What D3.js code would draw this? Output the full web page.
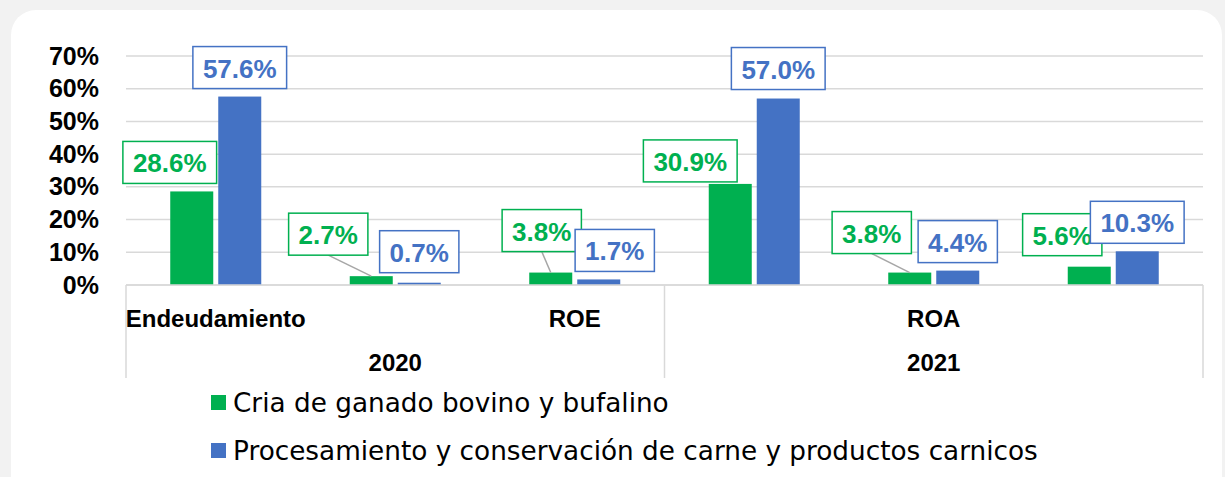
<!DOCTYPE html>
<html>
<head>
<meta charset="utf-8">
<script src="https://cdn.jsdelivr.net/npm/d3@7"></script>
<style>
  html, body { margin: 0; padding: 0; background: #f2f2f2; }
  svg { display: block; }
</style>
</head>
<body>
<div id="chart"></div>
<script>
// chart data
const years = ['2020', '2021'];
const metrics = ['Endeudamiento', 'ROA', 'ROE'];
const seriesNames = ['Cria de ganado bovino y bufalino', 'Procesamiento y conservación de carne y productos carnicos'];
const criaValues = [0.286, 0.027, 0.038, 0.309, 0.038, 0.056];
const procValues = [0.576, 0.007, 0.017, 0.570, 0.044, 0.103];
const yTicks = [0, 0.1, 0.2, 0.3, 0.4, 0.5, 0.6, 0.7];

const colors = ['#00b050', '#4472c4'];

// labels were dragged around by hand in the original, so keep the nudges (px)
const labelNudge = [
  [[-22, -8], [-43, -21], [-9, -21], [-40, -2], [-38, -19], [-27, -11]],
  [[0, -8], [0, -10], [16, -8], [0, -9], [0, -8], [0, -8]]
];

const W = 1225, H = 477;
const plot = { left: 126, right: 1203, top: 56, bottom: 285 };
const font = '"Liberation Sans", Arial, sans-serif';
const legendFont = '"DejaVu Sans", sans-serif';

const svg = d3.select('#chart').append('svg')
  .attr('width', W)
  .attr('height', H);

// white card
svg.append('rect')
  .attr('x', 11).attr('y', 10)
  .attr('width', 1211).attr('height', 520)
  .attr('rx', 25)
  .attr('fill', '#ffffff');

// categories: year x metric
const cats = [];
years.forEach(yr => metrics.forEach(m => cats.push({ year: yr, metric: m, key: yr + '|' + m })));

const x0 = d3.scaleBand()
  .domain(cats.map(d => d.key))
  .range([plot.left, plot.right])
  .paddingInner(0.493)
  .paddingOuter(0.2465);

const x1 = d3.scaleBand()
  .domain([0, 1])
  .range([0, x0.bandwidth()])
  .paddingInner(0.104);

const y = d3.scaleLinear()
  .domain([0, 0.7])
  .range([plot.bottom, plot.top]);

// gridlines
svg.append('g')
  .selectAll('line')
  .data(yTicks)
  .join('line')
  .attr('x1', plot.left).attr('x2', plot.right)
  .attr('y1', d => y(d)).attr('y2', d => y(d))
  .attr('stroke', '#d9d9d9')
  .attr('stroke-width', 1.5);

// y axis labels
const yAxis = d3.axisLeft(y)
  .tickValues(yTicks)
  .tickFormat(d3.format('.0%'))
  .tickSize(0)
  .tickPadding(27);

const yg = svg.append('g')
  .attr('transform', `translate(${plot.left},0)`)
  .call(yAxis);
yg.select('.domain').remove();
yg.selectAll('text')
  .attr('font-family', font)
  .attr('font-weight', 'bold')
  .attr('font-size', 25)
  .attr('fill', '#000');

// bars
const seriesData = [criaValues, procValues];
const barG = svg.append('g');
seriesData.forEach((vals, s) => {
  barG.selectAll('.bar' + s)
    .data(vals)
    .join('rect')
    .attr('class', 'bar' + s)
    .attr('x', (d, i) => x0(cats[i].key) + x1(s))
    .attr('y', d => y(d))
    .attr('width', x1.bandwidth())
    .attr('height', d => y(0) - y(d))
    .attr('fill', colors[s]);
});

// category axis (multi-level)
const axisG = svg.append('g');
const catStep = x0.step();
const axisBottom = 378;
axisG.append('line')
  .attr('x1', plot.left).attr('x2', plot.right)
  .attr('y1', plot.bottom).attr('y2', plot.bottom)
  .attr('stroke', '#d9d9d9').attr('stroke-width', 1.5);

const yearBounds = years.map(yr => {
  const keys = cats.filter(c => c.year === yr).map(c => c.key);
  return [x0(keys[0]) - (catStep - x0.bandwidth()) / 2, x0(keys[keys.length - 1]) + x0.bandwidth() + (catStep - x0.bandwidth()) / 2];
});
const dividers = [yearBounds[0][0]].concat(yearBounds.map(b => b[1]));
axisG.selectAll('.div')
  .data(dividers)
  .join('line')
  .attr('x1', d => d).attr('x2', d => d)
  .attr('y1', plot.bottom).attr('y2', axisBottom)
  .attr('stroke', '#d9d9d9').attr('stroke-width', 1.5);

// excel skipped every other inner label
axisG.selectAll('.catLabel')
  .data(cats.filter((d, i) => i % 2 === 0))
  .join('text')
  .attr('x', d => x0(d.key) + x0.bandwidth() / 2)
  .attr('y', 318)
  .attr('text-anchor', 'middle')
  .attr('dominant-baseline', 'central')
  .attr('font-family', font)
  .attr('font-weight', 'bold')
  .attr('font-size', 24)
  .attr('fill', '#000')
  .text(d => d.metric);

axisG.selectAll('.yearLabel')
  .data(years)
  .join('text')
  .attr('x', (d, i) => (yearBounds[i][0] + yearBounds[i][1]) / 2)
  .attr('y', 362)
  .attr('text-anchor', 'middle')
  .attr('dominant-baseline', 'central')
  .attr('font-family', font)
  .attr('font-weight', 'bold')
  .attr('font-size', 24)
  .attr('fill', '#000')
  .text(d => d);

// data labels with boxes
const fmt = d3.format('.1%');
const labelG = svg.append('g');
seriesData.forEach((vals, s) => {
  vals.forEach((v, i) => {
    const barCx = x0(cats[i].key) + x1(s) + x1.bandwidth() / 2;
    const barTop = y(v);
    const [dx, dy] = labelNudge[s][i];
    const cx = barCx + dx;
    const boxBottom = barTop + dy;
    const boxH = 42;
    const g = labelG.append('g');
    if (boxBottom < barTop - 15) {
      g.append('line')
        .attr('x1', cx).attr('y1', boxBottom)
        .attr('x2', barCx).attr('y2', barTop)
        .attr('stroke', '#a6a6a6')
        .attr('stroke-width', 1.5);
    }
    const rect = g.append('rect');
    const t = g.append('text')
      .attr('x', cx)
      .attr('y', boxBottom - boxH / 2 + 1)
      .attr('text-anchor', 'middle')
      .attr('dominant-baseline', 'central')
      .attr('font-family', font)
      .attr('font-weight', 'bold')
      .attr('font-size', 26)
      .attr('fill', colors[s])
      .text(fmt(v));
    const tw = t.node().getComputedTextLength();
    const boxW = tw + 20;
    rect.attr('x', cx - boxW / 2)
      .attr('y', boxBottom - boxH)
      .attr('width', boxW)
      .attr('height', boxH)
      .attr('fill', '#fff')
      .attr('stroke', colors[s])
      .attr('stroke-width', 1.5);
  });
});

// legend
const legend = svg.append('g');
seriesNames.forEach((name, s) => {
  const ly = 403 + s * 48;
  legend.append('rect')
    .attr('x', 211).attr('y', ly - 8)
    .attr('width', 15).attr('height', 15)
    .attr('fill', colors[s]);
  legend.append('text')
    .attr('x', 233)
    .attr('y', ly)
    .attr('dominant-baseline', 'central')
    .attr('font-family', legendFont)
    .attr('font-size', 26.3)
    .attr('fill', '#000')
    .text(name);
});
</script>
</body>
</html>
